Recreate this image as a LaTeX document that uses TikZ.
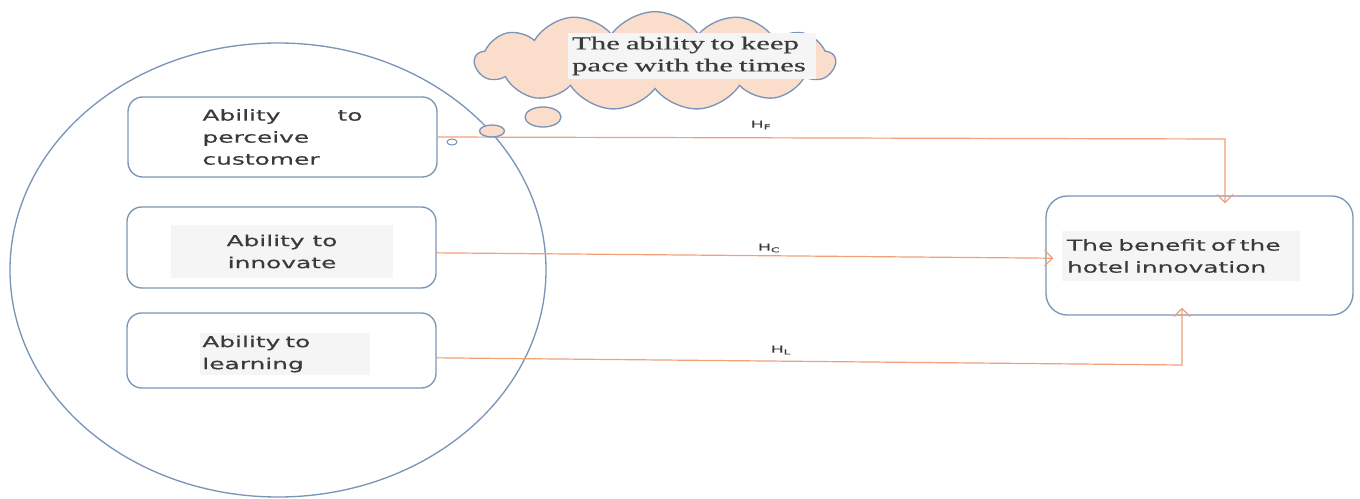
\documentclass[tikz,border=0pt]{standalone}
\usepackage{xcolor}
\usepackage{fontspec}
\usepackage{tikz}
\usetikzlibrary{positioning, arrows.meta, shapes.symbols}
\newfontfamily\boxfont[FakeStretch=1.65, FakeBold=0.4]{DejaVu Sans}
\newfontfamily\cloudfont[FakeStretch=1.7, FakeBold=0.4]{Liberation Serif}
\newfontfamily\labfont[FakeStretch=1.8, FakeBold=0.4]{DejaVu Sans}
\definecolor{linkorange}{HTML}{F2A07A}
\definecolor{edgeblue}{HTML}{7A95B7}
\definecolor{cloudpeach}{HTML}{FBDDCC}
\definecolor{txtgray}{HTML}{F5F5F5}
\definecolor{inkgray}{HTML}{3A3A3A}
\tikzset{
  abilitybox/.style={draw=edgeblue, line width=1pt, rounded corners=11pt,
                     minimum width=231.75pt},
  boxtext/.style={font=\boxfont\fontsize{11.3}{16.5}\selectfont, text=inkgray},
  hyparrow/.style={draw=linkorange, line width=0.9pt,
                   -{Straight Barb[length=6pt, width=12pt]}, shorten >=-6pt},
  hyplabel/.style={font=\labfont\fontsize{7.2}{9}\selectfont, text=inkgray}
}

\begin{document}
\begin{tikzpicture}[x=0.75pt, y=0.75pt]
  \useasboundingbox (0,0) rectangle (1360,-499);

  % the group of abilities
  \draw[edgeblue, line width=1pt] (278,-270) ellipse [x radius=268, y radius=227];

  \node[abilitybox, minimum height=60pt] (perceive) at (282.5,-137) {};
  \node[boxtext, text width=120pt, align=left] at (perceive.center)
       {Ability \hfill to\\perceive\\customer};

  \node[abilitybox, minimum height=60.75pt] (innovate) at (281.5,-247.5) {};
  \node[boxtext, fill=txtgray, minimum width=167pt, minimum height=40pt,
        align=center] (innovatetxt) at (282,-251.5) {Ability to\\innovate};

  \node[abilitybox, minimum height=56.25pt] (learning) at (281.5,-350.5) {};
  \node[boxtext, fill=txtgray, text width=124pt, inner xsep=2pt, inner ysep=2pt,
        align=left] (learningtxt) at (285,-354) {Ability to\\learning};

  % outcome
  \node[draw=edgeblue, line width=1pt, rounded corners=16pt,
        minimum width=230.25pt, minimum height=89.25pt] (benefit) at (1199.5,-255.5) {};
  \node[boxtext, fill=txtgray, text width=171pt, inner xsep=3.75pt, inner ysep=6pt,
        align=left] (benefittxt) at (1181,-256) {The benefit of the\\hotel innovation};

  % thought cloud
  \node[cloud, cloud puffs=13, cloud puff arc=110, aspect=3.8, draw=edgeblue,
        line width=1pt, fill=cloudpeach, minimum width=270pt, minimum height=74pt]
        (times) at (655,-61) {};
  \node[font=\cloudfont\fontsize{13.6}{16.5}\selectfont, text=inkgray, fill=txtgray,
        text width=180pt, inner xsep=3pt, inner ysep=3pt, align=left]
        (timestxt) at (692,-56) {The ability to keep\\pace with the times};
  \draw[edgeblue, line width=1pt, fill=cloudpeach] (543,-117) ellipse [x radius=18, y radius=10];

  % hypotheses
  \coordinate (hfbend) at (1225,-139);
  \coordinate (hlbend) at (1182,-365);
  \draw[hyparrow] (perceive.east) -- (hfbend) -- (hfbend |- benefit.north);
  \draw[hyparrow] ([yshift=-4pt]innovate.east) -- ([yshift=-2pt]benefit.west);
  \draw[hyparrow] ([yshift=-5.5pt]learning.east) -- (hlbend) -- (hlbend |- benefit.south);

  \draw[edgeblue, line width=1pt, fill=cloudpeach] (492,-131) ellipse [x radius=12.5, y radius=6];
  \draw[edgeblue, line width=0.8pt, fill=white] (452,-142) ellipse [x radius=5, y radius=3];

  \node[hyplabel] (hf) at (761,-125) {H\textsubscript{F}};
  \node[hyplabel] (hc) at (769,-248) {H\textsubscript{C}};
  \node[hyplabel] (hl) at (781,-350) {H\textsubscript{L}};
\end{tikzpicture}
\end{document}
